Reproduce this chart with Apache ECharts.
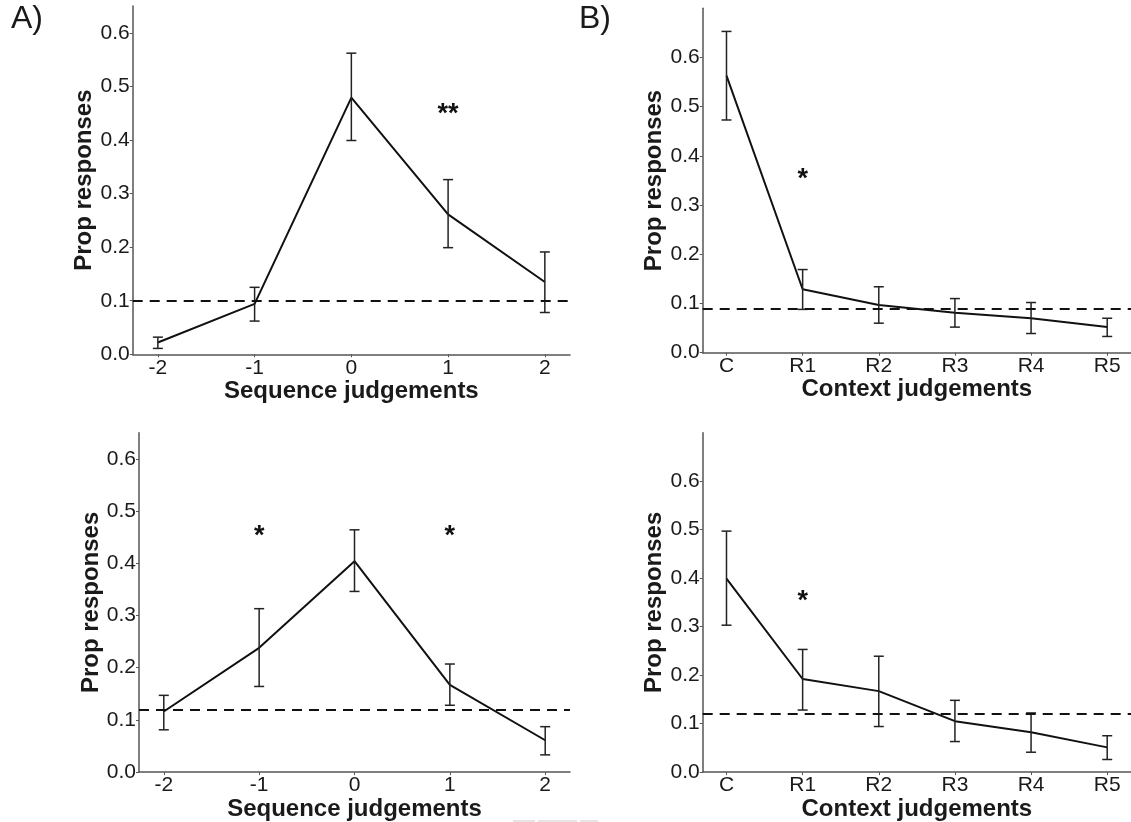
<!DOCTYPE html>
<html>
<head>
<meta charset="utf-8">
<script src="https://cdn.jsdelivr.net/npm/echarts@6/dist/echarts.min.js"></script>
<style>
html,body{margin:0;padding:0;background:#fff;}
#chart{width:1131px;height:822px;}
</style>
</head>
<body>
<div id="chart"></div>
<script>
// ---------- data ----------
const seqCats = [-2, -1, 0, 1, 2];
const ctxCats = ['C', 'R1', 'R2', 'R3', 'R4', 'R5'];
const yTicks = [0, 0.1, 0.2, 0.3, 0.4, 0.5, 0.6];

// A) top: sequence judgements
const seqTopMean = [0.022, 0.094, 0.479, 0.261, 0.135];
const seqTopLow  = [0.011, 0.062, 0.399, 0.199, 0.078];
const seqTopHigh = [0.032, 0.125, 0.562, 0.326, 0.191];
const seqTopChance = 0.101;
const seqTopStarX = [1];
const seqTopStarY = [0.455];
const seqTopStarText = ['**'];

// B) top: context judgements
const ctxTopMean = [0.563, 0.129, 0.097, 0.081, 0.070, 0.052];
const ctxTopLow  = [0.473, 0.088, 0.060, 0.052, 0.039, 0.033];
const ctxTopHigh = [0.653, 0.169, 0.134, 0.110, 0.102, 0.070];
const ctxTopChance = 0.085;
const ctxTopStarX = ['R1'];
const ctxTopStarY = [0.361];
const ctxTopStarText = ['*'];

// A) bottom: sequence judgements
const seqBotMean = [0.116, 0.238, 0.404, 0.167, 0.061];
const seqBotLow  = [0.081, 0.164, 0.346, 0.128, 0.033];
const seqBotHigh = [0.147, 0.313, 0.464, 0.207, 0.087];
const seqBotChance = 0.118;
const seqBotStarX = [-1, 1];
const seqBotStarY = [0.458, 0.458];
const seqBotStarText = ['*', '*'];

// B) bottom: context judgements
const ctxBotMean = [0.399, 0.192, 0.167, 0.105, 0.082, 0.051];
const ctxBotLow  = [0.303, 0.128, 0.094, 0.063, 0.041, 0.026];
const ctxBotHigh = [0.497, 0.253, 0.239, 0.148, 0.122, 0.075];
const ctxBotChance = 0.120;
const ctxBotStarX = ['R1'];
const ctxBotStarY = [0.36];
const ctxBotStarText = ['*'];

// ---------- build ----------
const FONT = '"Liberation Sans", Arial, sans-serif';
const AXIS_COLOR = '#555';
const TEXT_COLOR = '#1a1a1a';

const panels = [
  {grid:{left:132.7, top:6, width:437.3, height:348.3}, kind:'seq', ymax:0.65, xname:'Sequence judgements',
   mean:seqTopMean, low:seqTopLow, high:seqTopHigh, chance:seqTopChance, sx:seqTopStarX, sy:seqTopStarY, st:seqTopStarText},
  {grid:{left:702.7, top:8.3, width:432, height:344.4}, kind:'ctx', ymax:0.70, xname:'Context judgements',
   mean:ctxTopMean, low:ctxTopLow, high:ctxTopHigh, chance:ctxTopChance, sx:ctxTopStarX, sy:ctxTopStarY, st:ctxTopStarText},
  {grid:{left:139, top:432.7, width:431, height:342.3}, kind:'seq', ymax:0.65, xname:'Sequence judgements',
   mean:seqBotMean, low:seqBotLow, high:seqBotHigh, chance:seqBotChance, sx:seqBotStarX, sy:seqBotStarY, st:seqBotStarText},
  {grid:{left:702.7, top:432.7, width:432, height:342.3}, kind:'ctx', ymax:0.70, xname:'Context judgements',
   mean:ctxBotMean, low:ctxBotLow, high:ctxBotHigh, chance:ctxBotChance, sx:ctxBotStarX, sy:ctxBotStarY, st:ctxBotStarText}
];

const grids = [], xAxes = [], yAxes = [], series = [];

panels.forEach((p, gi) => {
  grids.push(p.grid);
  const isSeq = p.kind === 'seq';
  const xs = isSeq ? seqCats.slice() : ctxCats.map((c, i) => i);
  const xOf = v => isSeq ? v : ctxCats.indexOf(v);

  xAxes.push({
    type:'value', gridIndex:gi,
    min: isSeq ? -2.26 : -0.3125,
    max: isSeq ? 2.26 : 5.3125,
    name: p.xname, nameLocation:'middle', nameGap:22,
    nameTextStyle:{fontFamily:FONT, fontWeight:'bold', fontSize:24, color:TEXT_COLOR},
    axisLine:{show:true, onZero:false, lineStyle:{color:AXIS_COLOR, width:1.5}},
    axisTick:{show:true, length:3, customValues:xs, lineStyle:{color:AXIS_COLOR, width:1}},
    axisLabel:{show:true, margin:3, customValues:xs, fontFamily:FONT, fontSize:21, color:TEXT_COLOR,
      formatter: v => isSeq ? String(Math.round(v)) : ctxCats[Math.round(v)]},
    splitLine:{show:false}
  });
  yAxes.push({
    type:'value', gridIndex:gi, min:0, max:p.ymax,
    name:'Prop responses', nameLocation:'middle', nameGap:35,
    nameTextStyle:{fontFamily:FONT, fontWeight:'bold', fontSize:24, color:TEXT_COLOR},
    axisLine:{show:true, onZero:false, lineStyle:{color:AXIS_COLOR, width:1.5}},
    axisTick:{show:true, length:3, customValues:yTicks, lineStyle:{color:AXIS_COLOR, width:1}},
    axisLabel:{show:true, margin:3, customValues:yTicks, fontFamily:FONT, fontSize:21, color:TEXT_COLOR,
      formatter: v => v.toFixed(1)},
    splitLine:{show:false}
  });

  // mean line + chance dashed line
  series.push({
    type:'line', xAxisIndex:gi, yAxisIndex:gi,
    data: p.mean.map((v, i) => [xs[i], v]),
    symbol:'none', lineStyle:{color:'#111', width:2}, silent:true, z:3,
    markLine:{
      silent:true, symbol:'none', label:{show:false},
      lineStyle:{color:'#111', width:2, type:[10,7]},
      data:[{yAxis:p.chance}]
    }
  });

  // error bars
  series.push({
    type:'custom', xAxisIndex:gi, yAxisIndex:gi, silent:true, z:4,
    data: p.mean.map((v, i) => [xs[i], p.low[i], p.high[i]]),
    encode:{x:0, y:[1,2]},
    renderItem:(params, api) => {
      const top = api.coord([api.value(0), api.value(2)]);
      const bot = api.coord([api.value(0), api.value(1)]);
      const hw = 5;
      const st = {stroke:'#222', lineWidth:1.5};
      return {type:'group', children:[
        {type:'line', shape:{x1:top[0], y1:top[1], x2:bot[0], y2:bot[1]}, style:st},
        {type:'line', shape:{x1:top[0]-hw, y1:top[1], x2:top[0]+hw, y2:top[1]}, style:st},
        {type:'line', shape:{x1:bot[0]-hw, y1:bot[1], x2:bot[0]+hw, y2:bot[1]}, style:st}
      ]};
    }
  });

  // significance stars
  series.push({
    type:'custom', xAxisIndex:gi, yAxisIndex:gi, silent:true, z:5,
    data: p.sx.map((x, i) => [xOf(x), p.sy[i], i]),
    encode:{x:0, y:1},
    renderItem:(params, api) => {
      const c = api.coord([api.value(0), api.value(1)]);
      return {type:'text', x:c[0], y:c[1] + 4,
        style:{text:p.st[api.value(2)], fill:'#111', font:'bold 27px ' + FONT, align:'center', verticalAlign:'middle'}};
    }
  });
});

const chart = echarts.init(document.getElementById('chart'), null, {renderer:'canvas'});
chart.setOption({
  animation:false,
  backgroundColor:'#fff',
  grid:grids, xAxis:xAxes, yAxis:yAxes, series:series,
  graphic:[
    {type:'text', left:11, top:3, style:{text:'A)', font:'32px ' + FONT, fill:TEXT_COLOR}},
    {type:'text', left:579, top:3, style:{text:'B)', font:'32px ' + FONT, fill:TEXT_COLOR}},
    {type:'line', shape:{x1:513, y1:821, x2:535, y2:821}, style:{stroke:'#ccc', lineWidth:1}},
    {type:'line', shape:{x1:538, y1:821, x2:577, y2:821}, style:{stroke:'#ccc', lineWidth:1}},
    {type:'line', shape:{x1:580, y1:821, x2:598, y2:821}, style:{stroke:'#ccc', lineWidth:1}}
  ]
});
</script>
</body>
</html>
